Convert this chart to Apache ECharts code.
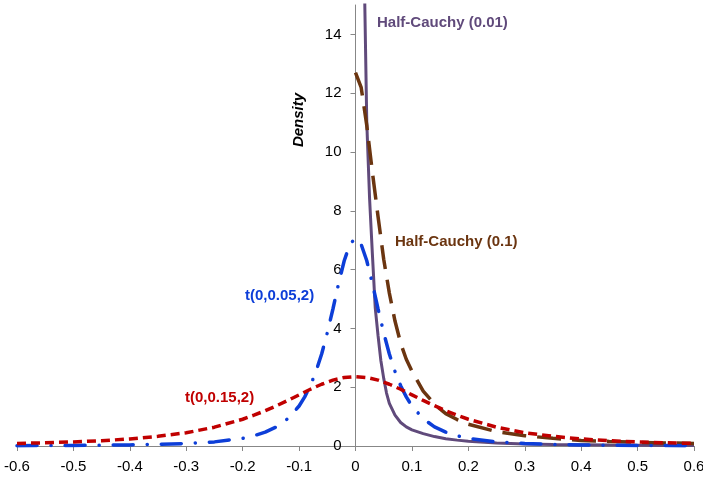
<!DOCTYPE html>
<html>
<head>
<meta charset="utf-8">
<script src="https://cdn.jsdelivr.net/npm/echarts@6/dist/echarts.min.js"></script>
<style>
  html, body { margin: 0; padding: 0; background: #fff; }
  #chart { width: 703px; height: 477px; }
</style>
</head>
<body>
<div id="chart"></div>
<script>
// Prior densities over the effect size
const purpleX = [0, 0.01, 0.0165, 0.02, 0.025, 0.03, 0.035, 0.04, 0.045, 0.05, 0.055, 0.06, 0.07, 0.08, 0.09, 0.1, 0.12, 0.14, 0.16, 0.18, 0.2, 0.25, 0.3, 0.35, 0.4, 0.45, 0.5, 0.55, 0.6];
const purpleY = [63.7, 31.8, 15, 11, 8.4, 6.5, 4.7, 3.75, 2.9, 2.3, 1.8, 1.45, 1.05, 0.8, 0.65, 0.55, 0.42, 0.32, 0.25, 0.2, 0.16, 0.1, 0.07, 0.05, 0.04, 0.03, 0.025, 0.02, 0.018];

const brownX = [0, 0.01, 0.02, 0.03, 0.04, 0.05, 0.06, 0.07, 0.08, 0.09, 0.1, 0.12, 0.14, 0.16, 0.18, 0.2, 0.25, 0.3, 0.35, 0.4, 0.45, 0.5, 0.55, 0.6];
const brownY = [12.7, 12.2, 10.9, 9.3, 7.8, 6.35, 5.2, 4.25, 3.5, 2.95, 2.55, 1.87, 1.42, 1.1, 0.9, 0.74, 0.49, 0.35, 0.26, 0.19, 0.155, 0.125, 0.105, 0.088];

const blueX = [-0.6, -0.55, -0.5, -0.45, -0.4, -0.35, -0.3, -0.25, -0.2, -0.18, -0.16, -0.14, -0.12, -0.1, -0.09, -0.08, -0.07, -0.06, -0.05, -0.04, -0.03, -0.02, -0.01, 0,
               0.01, 0.02, 0.03, 0.04, 0.05, 0.06, 0.07, 0.08, 0.09, 0.1, 0.12, 0.14, 0.16, 0.18, 0.2, 0.25, 0.3, 0.35, 0.4, 0.45, 0.5, 0.55, 0.6];
const blueY = [0.011, 0.015, 0.019, 0.026, 0.037, 0.055, 0.085, 0.14, 0.26, 0.35, 0.47, 0.65, 0.93, 1.36, 1.67, 2.05, 2.54, 3.13, 3.85, 4.66, 5.52, 6.3, 6.86, 7.07,
               6.86, 6.3, 5.52, 4.66, 3.85, 3.13, 2.54, 2.05, 1.67, 1.36, 0.93, 0.65, 0.47, 0.35, 0.26, 0.14, 0.085, 0.055, 0.037, 0.026, 0.019, 0.015, 0.011];

const redX = [-0.6, -0.55, -0.5, -0.45, -0.4, -0.35, -0.3, -0.25, -0.2, -0.18, -0.16, -0.14, -0.12, -0.1, -0.08, -0.06, -0.04, -0.02, 0,
              0.02, 0.04, 0.06, 0.08, 0.1, 0.12, 0.14, 0.16, 0.18, 0.2, 0.25, 0.3, 0.35, 0.4, 0.45, 0.5, 0.55, 0.6];
const redY = [0.087, 0.11, 0.14, 0.18, 0.24, 0.33, 0.45, 0.64, 0.91, 1.05, 1.2, 1.37, 1.55, 1.74, 1.93, 2.1, 2.24, 2.33, 2.36,
              2.33, 2.24, 2.1, 1.93, 1.74, 1.55, 1.37, 1.2, 1.05, 0.91, 0.64, 0.45, 0.33, 0.24, 0.18, 0.14, 0.11, 0.087];

const yTicks = [0, 2, 4, 6, 8, 10, 12, 14];
const seriesNames = ['Half-Cauchy (0.01)', 'Half-Cauchy (0.1)', 't(0,0.05,2)', 't(0,0.15,2)'];

const FONT = '"Liberation Sans", Arial, sans-serif';
const AXIS_GREY = '#878787';
const C_PURPLE = '#604A7B';
const C_BROWN = '#6B3510';
const C_BLUE = '#0D3ED8';
const C_RED = '#C00000';

const pairs = (xs, ys) => xs.map((x, i) => [x, ys[i]]);

const chart = echarts.init(document.getElementById('chart'), null, { renderer: 'canvas' });

chart.setOption({
  animation: false,
  backgroundColor: '#ffffff',
  grid: { left: 17, right: 9, top: 5, bottom: 31, containLabel: false, outerBoundsMode: 'none' },
  xAxis: {
    type: 'value',
    min: -0.6,
    max: 0.6,
    interval: 0.1,
    splitLine: { show: false },
    axisLine: { onZero: true, lineStyle: { color: AXIS_GREY, width: 1 } },
    axisTick: { show: true, length: 5, lineStyle: { color: AXIS_GREY } },
    axisLabel: {
      color: '#000', fontFamily: FONT, fontSize: 15, margin: 13,
      formatter: v => { const r = Math.round(v * 10) / 10; return r === 0 ? '0' : r.toFixed(1); }
    }
  },
  yAxis: {
    type: 'value',
    min: 0,
    max: 15,
    interval: 1,
    offset: 0,
    splitLine: { show: false },
    axisLine: { onZero: false, lineStyle: { color: AXIS_GREY, width: 1 } },
    axisTick: { show: true, length: 5, customValues: yTicks, lineStyle: { color: AXIS_GREY } },
    axisLabel: { color: '#000', fontFamily: FONT, fontSize: 15, margin: 14, customValues: yTicks }
  },
  series: [
    {
      name: seriesNames[0], type: 'line', showSymbol: false, clip: true,
      data: pairs(purpleX, purpleY),
      lineStyle: { color: C_PURPLE, width: 3 }
    },
    {
      name: seriesNames[1], type: 'line', showSymbol: false, clip: true,
      data: pairs(brownX, brownY),
      lineStyle: { color: C_BROWN, width: 3.5, type: [24, 11] }
    },
    {
      name: seriesNames[2], type: 'line', showSymbol: false, clip: true,
      data: pairs(blueX, blueY),
      lineStyle: { color: C_BLUE, width: 3.5, type: [20, 14, 0.1, 14], cap: 'round' }
    },
    {
      name: seriesNames[3], type: 'line', showSymbol: false, clip: true,
      data: pairs(redX, redY),
      lineStyle: { color: C_RED, width: 3.5, type: [9, 5] }
    }
  ],
  graphic: [
    {
      type: 'text', x: 299, y: 120, rotation: Math.PI / 2,
      style: { text: 'Density', fill: '#000', font: 'italic bold 15px ' + FONT, align: 'center', verticalAlign: 'middle' }
    },
    {
      type: 'text', x: 377, y: 23,
      style: { text: seriesNames[0], fill: C_PURPLE, font: 'bold 15px ' + FONT, align: 'left', verticalAlign: 'middle' }
    },
    {
      type: 'text', x: 395, y: 242,
      style: { text: seriesNames[1], fill: C_BROWN, font: 'bold 15px ' + FONT, align: 'left', verticalAlign: 'middle' }
    },
    {
      type: 'text', x: 245, y: 296,
      style: { text: seriesNames[2], fill: C_BLUE, font: 'bold 15px ' + FONT, align: 'left', verticalAlign: 'middle' }
    },
    {
      type: 'text', x: 185, y: 398,
      style: { text: seriesNames[3], fill: C_RED, font: 'bold 15px ' + FONT, align: 'left', verticalAlign: 'middle' }
    }
  ]
});

// Move the vertical axis (line, ticks and labels) onto x = 0
const xZero = chart.convertToPixel({ xAxisIndex: 0 }, 0);
const xLeft = chart.convertToPixel({ xAxisIndex: 0 }, -0.6);
chart.setOption({ yAxis: { offset: -(xZero - xLeft) } });
</script>
</body>
</html>
